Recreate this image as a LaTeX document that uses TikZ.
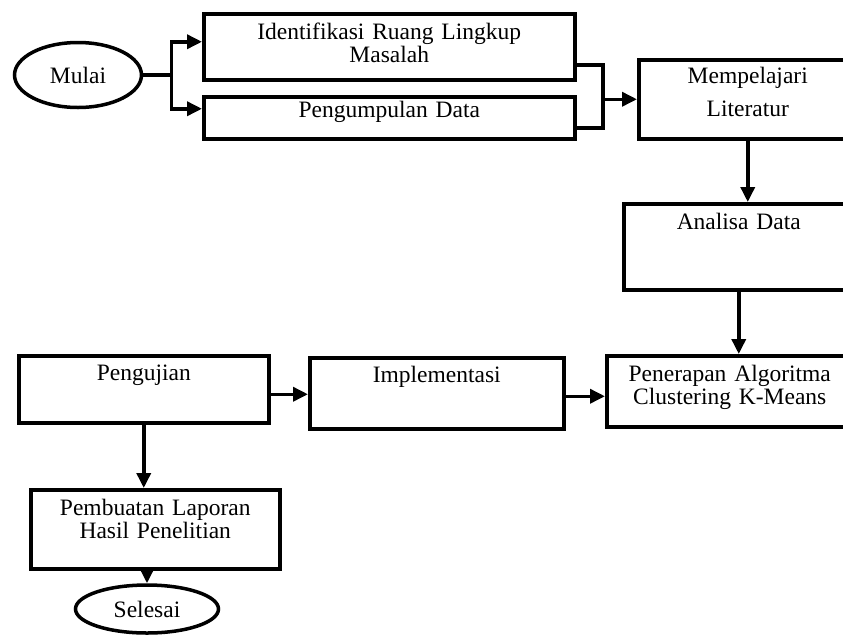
\documentclass[tikz,border=0pt]{standalone}
\usepackage{fontspec}
\setmainfont{Liberation Serif}
\usetikzlibrary{arrows.meta,shapes.geometric}
\tikzset{
  box/.style={draw, rectangle, line width=3.5pt, inner sep=0pt, anchor=north west,
    align=center, font=\fontsize{23.5}{21}\selectfont},
  term/.style={draw, ellipse, line width=3.5pt, inner sep=0pt,
    font=\fontsize{23.5}{21}\selectfont},
  flow/.style={line width=3.5pt, -{Triangle[length=15pt,width=14pt]}}
}
\begin{document}
\begin{tikzpicture}[x=1pt, y=-1pt]
      \useasboundingbox (0,0) rectangle (843,635);
      \node[term, minimum width=127pt, minimum height=65pt] (mulai) at (78,75) {Mulai};
      \node[box, text width=371pt, text height=26pt, text depth=40pt] (ident) at (202,12)
        {Identifikasi Ruang Lingkup\\Masalah};
      \node[box, text width=371pt, text height=21pt, text depth=21pt] (kumpul) at (202,95)
        {Pengumpulan Data};
      \node[box, text width=218pt, text height=24pt, text depth=55pt,
        font=\fontsize{23.5}{33}\selectfont] (pelajari) at (637,58)
        {Mempelajari\\Literatur};
      \node[box, text width=230pt, text height=26pt, text depth=60pt] (analisa) at (622,202)
        {Analisa Data};
      \node[box, text width=246pt, text height=26pt, text depth=45pt] (terapan) at (605,354)
        {Penerapan Algoritma\\Clustering K-Means};
      \node[box, text width=254pt, text height=25pt, text depth=46pt] (impl) at (308,356)
        {Implementasi};
      \node[box, text width=250pt, text height=25pt, text depth=42pt] (uji) at (17,354)
        {Pengujian};
      \node[box, text width=249pt, text height=26pt, text depth=53pt] (laporan) at (29,488)
        {Pembuatan Laporan\\Hasil Penelitian};
      \node[term, minimum width=143pt, minimum height=48pt] (selesai) at (147,609) {Selesai};
      \coordinate (split) at ([xshift=28pt]mulai.east);
      \coordinate (merge) at ([xshift=-34pt]pelajari.west);
      \begin{scope}[flow]
        \draw[-] (mulai) to (split);
        \draw (split) |- ([yshift=5pt]ident.west);
        \draw (split) |- ([yshift=9pt]kumpul.west);
        \draw[-] ([yshift=-18pt]ident.east) -| (merge);
        \draw[-] ([yshift=-10pt]kumpul.east) -| (merge);
        \draw (merge) to (pelajari.west);
        \draw (pelajari.south) to (pelajari.south |- analisa.north);
        \draw (analisa.south) to (analisa.south |- terapan.north);
        \draw ([yshift=-3pt]impl.east) to ([yshift=-3pt]impl.east -| terapan.west);
        \draw ([yshift=-5pt]uji.east) to ([yshift=-5pt]uji.east -| impl.west);
        \draw (uji.south) to (uji.south |- laporan.north);
        \draw (selesai.north |- laporan.south) to (selesai.north);
      \end{scope}
    \end{tikzpicture}
\end{document}
